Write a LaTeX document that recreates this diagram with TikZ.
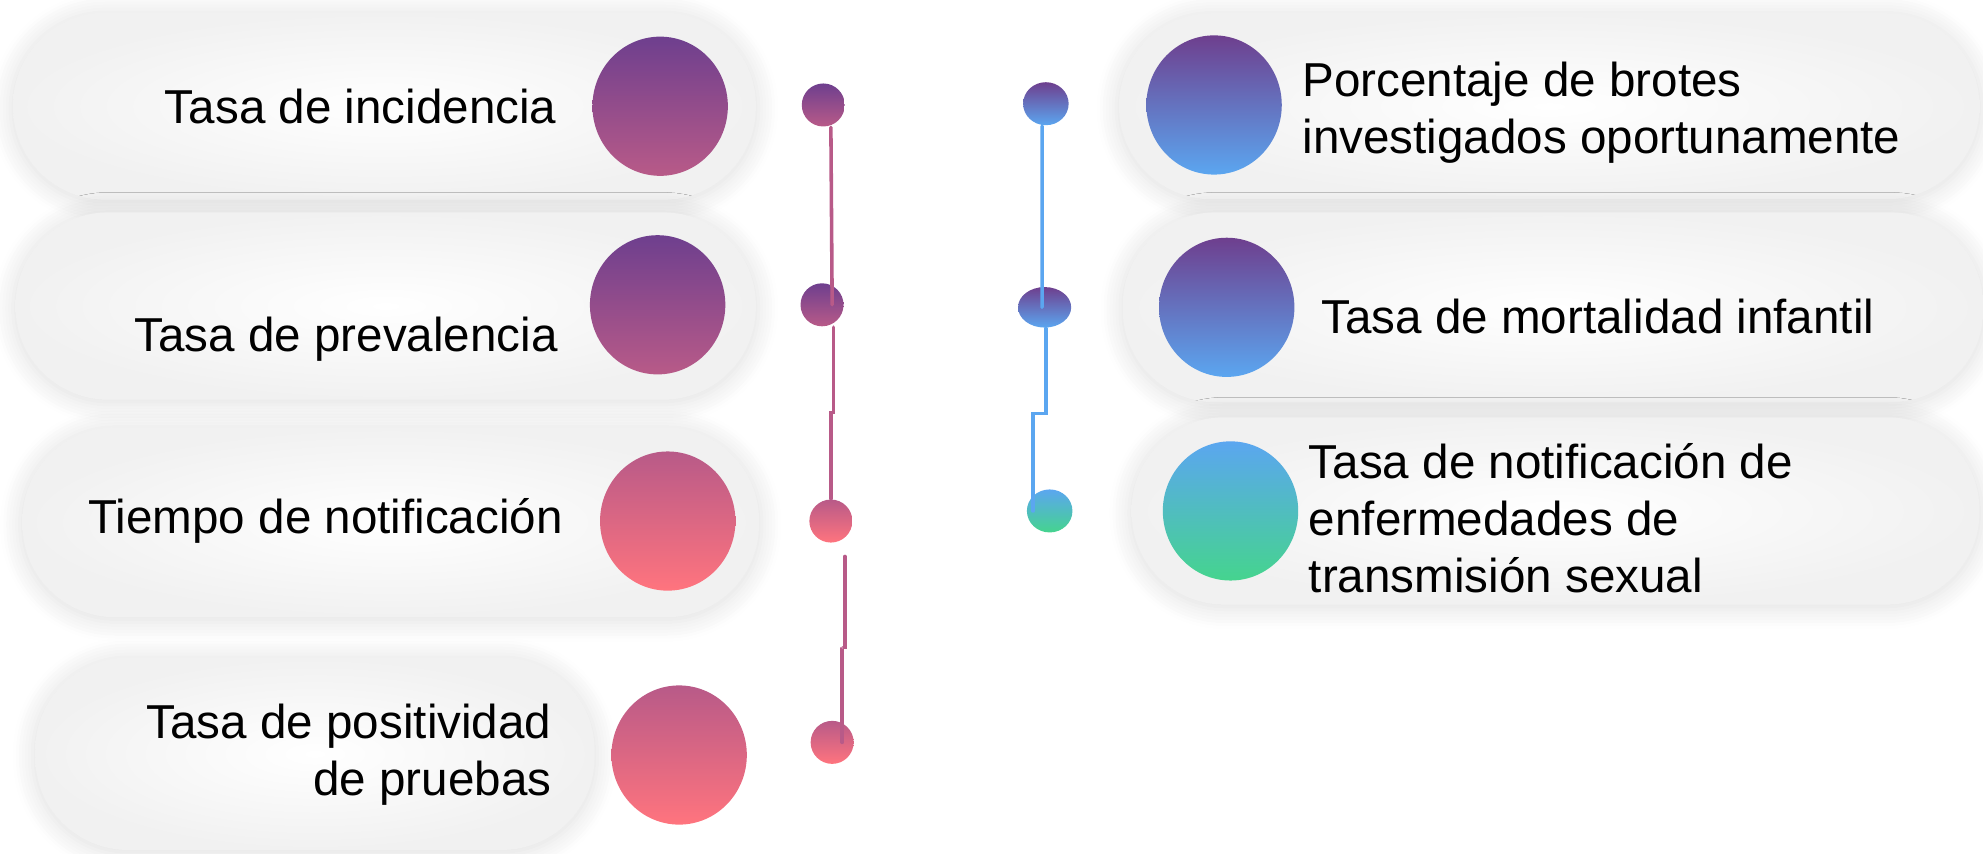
\documentclass[tikz,border=0pt]{standalone}
\usepackage{fontspec}
\setmainfont{Liberation Sans}
\usetikzlibrary{shapes.geometric,positioning,shadows.blur}
\definecolor{grape}{RGB}{110,63,142}
\definecolor{rose}{RGB}{184,90,136}
\definecolor{coral}{RGB}{255,116,126}
\definecolor{sky}{RGB}{91,166,240}
\definecolor{mint}{RGB}{69,212,142}

\begin{document}
\begin{tikzpicture}[x=0.01cm,y=-0.01cm]
\tikzstyle{pill}=[rectangle,rounded corners=7.3mm,
inner color=white,outer color=gray!11,
blur shadow={shadow xshift=0pt,shadow yshift=-.5pt,shadow blur radius=5pt,shadow blur steps=8,shadow opacity=14}]
\tikzstyle{bigdot}=[ellipse,inner sep=0pt,minimum width=10.7mm,minimum height=11mm]
\tikzstyle{smalldot}=[ellipse,inner sep=0pt,minimum width=3.4mm,minimum height=3.4mm]
\tikzstyle{lbl}=[font=\fontsize{10.7}{12.8}\selectfont,inner sep=0pt]
\tikzstyle{lline}=[line width=.8pt,line cap=round,draw=rose]
\tikzstyle{rline}=[line width=.8pt,line cap=round,draw=sky]
\tikzstyle{pr}=[top color=grape,bottom color=rose]
\tikzstyle{rc}=[top color=rose,bottom color=coral]
\tikzstyle{ps}=[top color=grape,bottom color=sky]
\tikzstyle{sm}=[top color=sky,bottom color=mint]

\useasboundingbox (0,0) rectangle (1568,675);

% left column
\node[pill,minimum width=58.7mm,minimum height=14.8mm] at (304,84) (p1) {};
\node[pill,minimum width=58.5mm,minimum height=14.8mm] at (305,242) (p2) {};
\node[pill,minimum width=58.2mm,minimum height=15mm] at (309,413) (p3) {};
\node[pill,minimum width=44.2mm,minimum height=15.2mm] at (249,596) (p4) {};
% right column
\node[pill,minimum width=68mm,minimum height=14.7mm] at (1225,84) (q1) {};
\node[pill,minimum width=68mm,minimum height=15mm] at (1228,243) (q2) {};
\node[pill,minimum width=67mm,minimum height=14.8mm] at (1230,404) (q3) {};

\node[bigdot,pr] at (522,84) (c1) {};
\node[bigdot,pr] at (520,241) (c2) {};
\node[bigdot,rc] at (528,412) (c3) {};
\node[bigdot,rc] at (537,597) (c4) {};
\node[bigdot,ps] at (960,83) (e1) {};
\node[bigdot,ps] at (970,243) (e2) {};
\node[bigdot,sm] at (973,404) (e3) {};

\node[lbl,left=2.7mm of c1] (t1) {Tasa de incidencia};
\node[lbl,left=2.4mm of c2,yshift=-2.7mm] (t2) {Tasa de prevalencia};
\node[lbl,left=2.8mm of c3] (t3) {Tiempo de notificación};
\node[lbl,left=4.6mm of c4,align=right] (t4) {Tasa de positividad\\de pruebas};
\node[lbl,right=1.5mm of e1,yshift=-.6mm,align=left] (u1) {Porcentaje de brotes\\investigados oportunamente};
\node[lbl,right=2mm of e2,yshift=-.7mm] (u2) {Tasa de mortalidad infantil};
\node[lbl,right=.7mm of e3,yshift=-.6mm,align=left] (u3) {Tasa de notificación de\\enfermedades de\\transmisión sexual};

% small dots
\node[smalldot,pr] at (651,83) (d1) {};
\node[smalldot,pr] at (650,241) (d2) {};
\node[smalldot,rc] at (657,412) (d3) {};
\node[smalldot,rc] at (658,587) (d4) {};
\node[smalldot,ps,minimum width=3.6mm] at (827,82) (r1) {};
\node[smalldot,ps,minimum width=4.2mm,minimum height=3.2mm] at (826,243) (r2) {};
\node[smalldot,sm,minimum width=3.6mm] at (830,404) (r3) {};

\coordinate (k1) at (657,326);
\coordinate (k2) at (668,440);
\coordinate (k3) at (666,512);
\coordinate (k4) at (817,327);

\draw[lline] ([xshift=.6mm]d1.south) -- ([xshift=.8mm]d2.center);
\draw[lline] ([xshift=.9mm]d2.south) |- (k1) -| (d3.north);
\draw[lline] (k2) |- (k3) -| ([xshift=.8mm]d4.center);
\draw[rline] ([xshift=-.3mm]r1.south) -- ([xshift=-.2mm]r2.center);
\draw[rline] ([xshift=.1mm]r2.south) |- (k4) -| ([xshift=-1.3mm]r3.center);

\end{tikzpicture}
\end{document}
